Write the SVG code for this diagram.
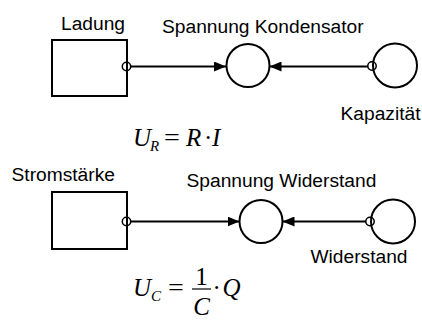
<svg xmlns="http://www.w3.org/2000/svg" width="422" height="320" viewBox="0 0 422 320">
<defs>
<style>
.lbl{font-family:"Liberation Sans",Arial,sans-serif;font-size:19.2px;fill:#000}
.m{font-family:"Liberation Serif","Times New Roman",serif;font-size:25px;fill:#000;font-style:italic}
.mn{font-family:"Liberation Serif","Times New Roman",serif;font-size:25px;fill:#000}
.sub{font-family:"Liberation Serif","Times New Roman",serif;font-size:15px;fill:#000;font-style:italic}
.box{fill:#fff;stroke:#000;stroke-width:2}
.port{fill:none;stroke:#000;stroke-width:1.5}
.link{stroke:#000;stroke-width:1.8;fill:none}
</style>
<marker id="arr" viewBox="0 0 12 10" refX="12" refY="5" markerWidth="12" markerHeight="10" markerUnits="userSpaceOnUse" orient="auto">
<path d="M0,0 L12,5 L0,10 Z" fill="#000"/>
</marker>
</defs>

<g id="connectors">
<line class="link" x1="131" y1="66.5" x2="226" y2="66.5" marker-end="url(#arr)"/>
<line class="link" x1="368" y1="66.5" x2="269.5" y2="66.5" marker-end="url(#arr)"/>
<line class="link" x1="131" y1="221.5" x2="239.5" y2="221.5" marker-end="url(#arr)"/>
<line class="link" x1="366" y1="221.5" x2="282.5" y2="221.5" marker-end="url(#arr)"/>
</g>

<g id="ladung">
<rect class="box" x="52" y="40" width="75" height="56"/>
<circle class="port" cx="126.5" cy="66.5" r="4.2"/>
<text class="lbl" x="61" y="30">Ladung</text>
</g>

<g id="spannung-kondensator">
<circle class="box" cx="248" cy="65.5" r="21.5"/>
<text class="lbl" x="162" y="33">Spannung Kondensator</text>
</g>

<g id="kapazitaet">
<circle class="box" cx="395" cy="65.5" r="22"/>
<circle class="port" cx="372" cy="66" r="4.2"/>
<text class="lbl" x="340.5" y="120">Kapazität</text>
</g>

<g id="formel-ur">
<text class="m" x="133" y="146">U</text>
<text class="sub" x="150" y="150.5">R</text>
<text class="mn" transform="translate(164,146) scale(1.12,1)">=</text>
<text class="m" x="186" y="146">R</text>
<text class="mn" x="204" y="146">·</text>
<text class="m" x="212" y="146">I</text>
</g>

<g id="stromstaerke">
<rect class="box" x="52" y="192" width="75" height="57"/>
<circle class="port" cx="126.5" cy="221.5" r="4.2"/>
<text class="lbl" x="11.5" y="181">Stromstärke</text>
</g>

<g id="spannung-widerstand">
<circle class="box" cx="261" cy="221.5" r="21.5"/>
<text class="lbl" x="186.5" y="187">Spannung Widerstand</text>
</g>

<g id="widerstand">
<circle class="box" cx="393" cy="221.5" r="22"/>
<circle class="port" cx="370" cy="221.5" r="4.2"/>
<text class="lbl" x="310.5" y="263">Widerstand</text>
</g>

<g id="formel-uc">
<text class="m" x="133" y="296">U</text>
<text class="sub" x="151" y="300.5">C</text>
<text class="mn" transform="translate(168,296) scale(1.12,1)">=</text>
<text class="mn" x="201.5" y="285" text-anchor="middle">1</text>
<line x1="192" y1="289" x2="211" y2="289" stroke="#000" stroke-width="1.2"/>
<text class="m" x="201.5" y="315" text-anchor="middle">C</text>
<text class="mn" x="212.5" y="296">·</text>
<text class="m" x="222.5" y="296">Q</text>
</g>
</svg>
